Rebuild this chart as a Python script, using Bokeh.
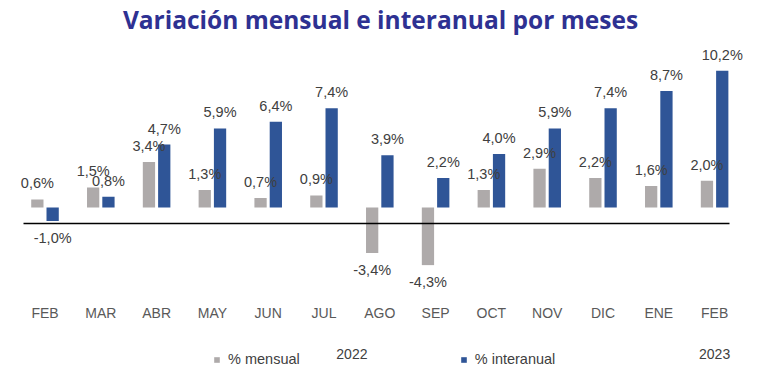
from bokeh.plotting import figure
from bokeh.models import ColumnDataSource, Range1d, Legend, LegendItem
from bokeh.core.properties import value
from bokeh.transform import dodge
from bokeh.embed import file_html
from bokeh.resources import INLINE

# ---- data ----
months = ["FEB", "MAR", "ABR", "MAY", "JUN", "JUL", "AGO", "SEP", "OCT", "NOV", "DIC", "ENE", "FEB"]
mensual = [0.6, 1.5, 3.4, 1.3, 0.7, 0.9, -3.4, -4.3, 1.3, 2.9, 2.2, 1.6, 2.0]
interanual = [-1.0, 0.8, 4.7, 5.9, 6.4, 7.4, 3.9, 2.2, 4.0, 5.9, 7.4, 8.7, 10.2]
series_names = ["% mensual", "% interanual"]
years = ["2022", "2023"]
title_text = "Variación mensual e interanual por meses"

# ---- layout constants (pixels) ----
W, H = 760, 382
TITLE_H = 35          # approx height of title panel
ZERO_PX = 207         # figure y of value 0
PX_PER_UNIT = 13.4
X0_PX = 44.5          # figure x of first category
PX_PER_CAT = 55.8

def val_at(py):
    return (ZERO_PX - py) / PX_PER_UNIT

x_start = -X0_PX / PX_PER_CAT
x_end = (W - X0_PX) / PX_PER_CAT
y_end = val_at(TITLE_H)
y_start = val_at(H)

GRAY = "#AEAAAA"
BLUE = "#2F5597"
LABEL_C = "#404040"
AXIS_C = "#595959"

def fmt(v):
    return f"{v:.1f}".replace(".", ",") + "%"

idx = list(range(len(months)))
src_m = ColumnDataSource(dict(x=idx, y=mensual, lab=[fmt(v) for v in mensual],
                              off=[-16 if v >= 0 else 17 for v in mensual]))
src_i = ColumnDataSource(dict(x=idx, y=interanual, lab=[fmt(v) for v in interanual],
                              off=[-16 if v >= 0 else 17 for v in interanual]))

p = figure(width=W, height=H, output_backend="svg", toolbar_location=None,
           x_range=Range1d(x_start, x_end), y_range=Range1d(y_start, y_end),
           x_axis_location=None, y_axis_location=None,
           min_border_left=0, min_border_right=0, min_border_top=0, min_border_bottom=0)
p.outline_line_color = None
p.grid.visible = False
p.background_fill_color = "white"
p.border_fill_color = "white"

p.title.text = title_text
p.title.align = "center"
p.title.text_font = "Open Sans"
p.title.text_font_style = "bold"
p.title.text_font_size = "24.5px"
p.title.text_color = "#2E3192"
p.title.standoff = 0

BW = 0.22
OFF = 0.137
rm = p.vbar(x=dodge("x", -OFF, range=p.x_range), top="y", bottom=0, width=BW,
            source=src_m, fill_color=GRAY, line_color=None)
ri = p.vbar(x=dodge("x", OFF, range=p.x_range), top="y", bottom=0, width=BW,
            source=src_i, fill_color=BLUE, line_color=None)

for src, o in ((src_m, -OFF), (src_i, OFF)):
    p.text(x=dodge("x", o, range=p.x_range), y="y", text="lab", y_offset="off", source=src,
           text_align="center", text_baseline="middle", text_font=value("Liberation Sans"),
           text_font_size="14.5px", text_color=LABEL_C)

# horizontal axis line (below zero, as in the original)
line_y = val_at(ZERO_PX + 16)
p.segment(x0=[(23 - X0_PX) / PX_PER_CAT], x1=[(729 - X0_PX) / PX_PER_CAT],
          y0=[line_y], y1=[line_y], line_color="black", line_width=1.5)

# category labels
p.text(x=idx, y=[val_at(312)] * len(idx), text=months, text_align="center",
       text_baseline="middle", text_font=value("Liberation Sans"), text_font_size="14px",
       text_color=AXIS_C)

# year labels
p.text(x=[5.5, 12], y=[val_at(353)] * 2, text=years, text_align="center",
       text_baseline="middle", text_font=value("Liberation Sans"), text_font_size="14px",
       text_color=LABEL_C)

legend = Legend(items=[LegendItem(label=series_names[0], renderers=[rm]),
                       LegendItem(label=series_names[1], renderers=[ri])],
                orientation="horizontal", location=(213, 15), spacing=160,
                glyph_width=7, glyph_height=7, label_standoff=8, padding=0, margin=0,
                border_line_color=None, background_fill_alpha=0,
                label_text_font="Liberation Sans", label_text_font_size="14.5px",
                label_text_color=LABEL_C)
p.add_layout(legend, "center")

open("out.html", "w").write(file_html(p, INLINE))
